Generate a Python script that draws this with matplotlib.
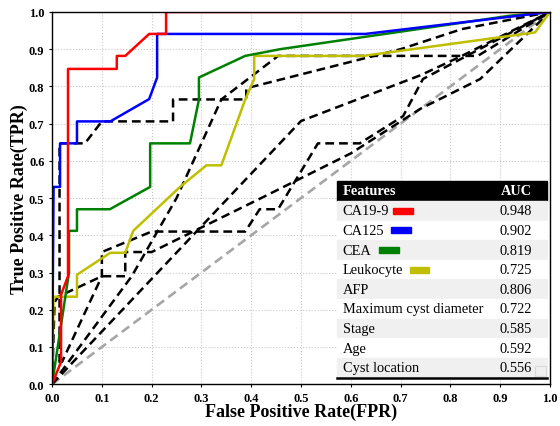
import numpy as np
import matplotlib
matplotlib.use("Agg")
import matplotlib.pyplot as plt
from matplotlib.patches import Rectangle

plt.rcParams['font.family'] = ['Liberation Serif', 'DejaVu Serif']

# ROC curves (fpr, tpr)
ca199_fpr = [0, 0.018, 0.018, 0.032, 0.032, 0.13, 0.13, 0.147, 0.195, 0.229, 0.229, 1.0]
ca199_tpr = [0, 0.06, 0.24, 0.29, 0.847, 0.847, 0.882, 0.882, 0.941, 0.941, 1.0, 1.0]

ca125_fpr = [0, 0.003, 0.016, 0.016, 0.05, 0.05, 0.117, 0.195, 0.211, 0.211, 0.629, 1.0]
ca125_tpr = [0, 0.53, 0.53, 0.647, 0.647, 0.706, 0.706, 0.766, 0.824, 0.941, 0.941, 1.0]

cea_fpr = [0, 0.034, 0.034, 0.05, 0.05, 0.116, 0.197, 0.197, 0.277, 0.295, 0.295, 0.388, 0.458, 0.92, 1.0]
cea_tpr = [0, 0.3, 0.412, 0.412, 0.47, 0.47, 0.53, 0.647, 0.647, 0.765, 0.824, 0.882, 0.9, 0.99, 1.0]

leu_fpr = [0, 0.003, 0.05, 0.05, 0.117, 0.147, 0.163, 0.257, 0.31, 0.34, 0.388, 0.406, 0.406, 0.625, 0.97, 1.0]
leu_tpr = [0, 0.235, 0.235, 0.294, 0.353, 0.353, 0.412, 0.53, 0.588, 0.588, 0.765, 0.82, 0.882, 0.882, 0.945, 1.0]

afp_fpr = [0, 0.003, 0.015, 0.015, 0.066, 0.1, 0.243, 0.243, 0.39, 0.39, 0.7, 0.823, 1.0]
afp_tpr = [0, 0.06, 0.06, 0.647, 0.647, 0.706, 0.706, 0.765, 0.765, 0.795, 0.9, 0.954, 1.0]

cyst_fpr = [0, 0.16, 0.25, 0.34, 0.454, 0.855, 1.0]
cyst_tpr = [0, 0.29, 0.5, 0.765, 0.882, 0.882, 1.0]

stage_fpr = [0, 0.003, 0.02, 0.1, 0.1, 0.2, 0.388, 0.417, 0.454, 0.534, 0.618, 0.705, 0.745, 1.0]
stage_tpr = [0, 0.06, 0.06, 0.29, 0.355, 0.41, 0.41, 0.47, 0.47, 0.647, 0.647, 0.72, 0.82, 1.0]

age_fpr = [0, 0.5, 0.74, 0.823, 1.0]
age_tpr = [0, 0.707, 0.83, 0.882, 1.0]

loc_fpr = [0, 0.005, 0.012, 0.1, 0.147, 0.147, 0.2, 0.42, 0.6, 0.74, 0.86, 1.0]
loc_tpr = [0, 0.22, 0.235, 0.29, 0.29, 0.355, 0.355, 0.5, 0.62, 0.74, 0.82, 1.0]

features = ['CA19-9', 'CA125', 'CEA', 'Leukocyte', 'AFP', 'Maximum cyst diameter', 'Stage', 'Age', 'Cyst location']
auc = ['0.948', '0.902', '0.819', '0.725', '0.806', '0.722', '0.585', '0.592', '0.556']

fig = plt.figure(figsize=(5.6, 4.27), dpi=100)
ax = fig.add_axes([0.093, 0.098, 0.889, 0.8716])

dash = (0, (3.5, 2))
ax.plot([0, 1], [0, 1], color='#a6a6a6', lw=1.9, ls=dash)
for fx, ty in [(loc_fpr, loc_tpr), (age_fpr, age_tpr), (stage_fpr, stage_tpr),
               (cyst_fpr, cyst_tpr), (afp_fpr, afp_tpr)]:
    ax.plot(fx, ty, color='black', lw=1.8, ls=dash)
ax.plot(leu_fpr, leu_tpr, color='#bfbf00', lw=1.8)
ax.plot(cea_fpr, cea_tpr, color='#008000', lw=1.8)
ax.plot(ca125_fpr, ca125_tpr, color='#0000ff', lw=1.8)
ax.plot(ca199_fpr, ca199_tpr, color='#ff0000', lw=1.8)

ax.set_xlim(0, 1)
ax.set_ylim(0, 1)
ticks = np.arange(0, 1.01, 0.1)
ax.set_xticks(ticks)
ax.set_yticks(ticks)
ax.set_xticklabels(['%.1f' % t for t in ticks], fontweight='bold', fontsize=9)
ax.set_yticklabels(['%.1f' % t for t in ticks], fontweight='bold', fontsize=9)
ax.tick_params(length=2.5, pad=3)
ax.grid(True, ls=':', color='#c8c8c8', lw=0.8)
ax.set_axisbelow(True)
ax.set_xlabel('False Positive Rate(FPR)', fontweight='bold', fontsize=13, labelpad=-1)
ax.set_ylabel('True Positive Rate(TPR)', fontweight='bold', fontsize=13, labelpad=1)
for s in ax.spines.values():
    s.set_color('black')
    s.set_linewidth(1.0)

# table-like legend
x0, x1 = 0.572, 0.994
top = 0.546
hh = 0.054
rh = 0.0527
fs = 10.4
ax.add_patch(Rectangle((x0, top - hh), x1 - x0, hh, color='black', zorder=5))
ax.text(0.584, top - hh / 2, 'Features', color='white', fontweight='bold', fontsize=fs, va='center', zorder=6)
ax.text(0.964, top - hh / 2, 'AUC', color='white', fontweight='bold', fontsize=fs, va='center', ha='right', zorder=6)
colors = ['#ff0000', '#0000ff', '#008000', '#bfbf00']
sw_x = [0.685, 0.68, 0.656, 0.718]
y = top - hh
for i, (f, a) in enumerate(zip(features, auc)):
    bg = '#f0f0f0' if i % 2 == 0 else 'white'
    ax.add_patch(Rectangle((x0, y - rh), x1 - x0, rh, color=bg, zorder=5))
    ax.text(0.584, y - rh / 2, f, fontsize=fs, va='center', zorder=6)
    ax.text(0.964, y - rh / 2, a, fontsize=fs, va='center', ha='right', zorder=6)
    if i < 4:
        ax.add_patch(Rectangle((sw_x[i], y - rh / 2 - 0.008), 0.04, 0.016, color=colors[i], zorder=6))
    y -= rh
ax.plot([x0, x1], [y, y], color='black', lw=1.8, zorder=6)
ax.add_patch(Rectangle((0.97, y + 0.005), 0.022, 0.027, fill=False, edgecolor='#d9d9d9', lw=0.8, zorder=6))

fig.savefig('out.png', dpi=100)
